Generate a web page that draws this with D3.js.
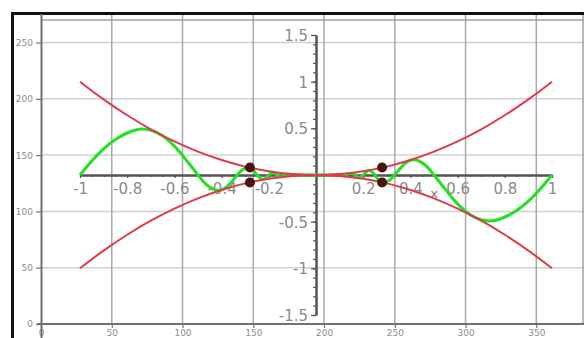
<!DOCTYPE html>
<html>
<head>
<meta charset="utf-8">
<script src="https://cdn.jsdelivr.net/npm/d3@7"></script>
<style>
  body { margin: 0; background: #fff; }
  svg { display: block; }
  .outer text { font-family: "DejaVu Sans", sans-serif; font-size: 9px; fill: #8c8c8c; }
  .inner text { font-family: "DejaVu Sans", sans-serif; font-size: 15px; fill: #8a8a8a; }
</style>
</head>
<body>
<svg id="chart" width="584" height="338"></svg>
<script>
// outer (screen) axes
var outerXTicks = [0, 50, 100, 150, 200, 250, 300, 350];
var outerYTicks = [0, 50, 100, 150, 200, 250];

// inner (math) axes
var innerXTicks = [-1, -0.8, -0.6, -0.4, -0.2, 0.2, 0.4, 0.6, 0.8, 1];
var innerYTicks = [-1.5, -1, -0.5, 0.5, 1, 1.5];

// red envelope curves
var redX = [-1, -0.9, -0.8, -0.7, -0.6, -0.5, -0.4, -0.3, -0.2, -0.1, 0, 0.1, 0.2, 0.3, 0.4, 0.5, 0.6, 0.7, 0.8, 0.9, 1];
var redTop = [1.00, 0.81, 0.64, 0.49, 0.36, 0.25, 0.16, 0.09, 0.04, 0.01, 0, 0.01, 0.04, 0.09, 0.16, 0.25, 0.36, 0.49, 0.64, 0.81, 1.00];
var redBottom = [-1.00, -0.81, -0.64, -0.49, -0.36, -0.25, -0.16, -0.09, -0.04, -0.01, 0, -0.01, -0.04, -0.09, -0.16, -0.25, -0.36, -0.49, -0.64, -0.81, -1.00];

// green oscillating curve
var greenX = [-1, -0.95, -0.9, -0.85, -0.8, -0.75, -0.7, -0.65, -0.6, -0.575, -0.55, -0.525, -0.5, -0.47, -0.45, -0.425, -0.4, -0.375, -0.35, -0.333,
  -0.31, -0.29, -0.265, -0.25, -0.225, -0.2, -0.18, -0.167, -0.15, -0.12, -0.08, 0,
  0.08, 0.12, 0.15, 0.167, 0.18, 0.2, 0.225, 0.25, 0.265, 0.29, 0.31,
  0.333, 0.35, 0.375, 0.4, 0.425, 0.45, 0.47, 0.5, 0.525, 0.55, 0.575, 0.6, 0.65, 0.7, 0.75, 0.8, 0.85, 0.9, 0.95, 1];
var greenY = [0, 0.15, 0.28, 0.38, 0.45, 0.49, 0.48, 0.42, 0.31, 0.24, 0.16, 0.08, 0, -0.09, -0.13, -0.16, -0.16, -0.12, -0.05, 0,
  0.06, 0.08, 0.05, 0, -0.05, 0, 0.03, 0, -0.02, 0, 0, 0,
  0, 0, 0.02, 0, -0.03, 0, 0.05, 0, -0.05, -0.08, -0.06,
  0, 0.05, 0.12, 0.16, 0.16, 0.13, 0.09, 0, -0.08, -0.16, -0.24, -0.31, -0.42, -0.48, -0.49, -0.45, -0.38, -0.28, -0.15, 0];

// black dots where the curves meet the envelope
var dotX = [-0.28, -0.28, 0.28, 0.28];
var dotY = [0.08, -0.08, 0.08, -0.08];

var svg = d3.select("#chart");

var xOut = d3.scaleLinear().domain([0, 383]).range([41, 583]);
var yOut = d3.scaleLinear().domain([0, 270]).range([324, 20]);

var xIn = d3.scaleLinear().domain([-1, 1]).range([80, 552]);
var yIn = d3.scaleLinear().domain([-1.5, 1.5]).range([315, 35]);

var plain = function (d) { return String(d); };

// grid
var grid = svg.append("g");
grid.selectAll(".hg")
  .data(outerYTicks.filter(function (d) { return d > 0; }))
  .enter().append("line")
  .attr("x1", 41).attr("x2", 584)
  .attr("y1", function (d) { return yOut(d); })
  .attr("y2", function (d) { return yOut(d); })
  .attr("stroke", "#d0d0d0").attr("stroke-width", 1.5);
grid.selectAll(".vg")
  .data(outerXTicks.filter(function (d) { return d > 0; }))
  .enter().append("line")
  .attr("x1", function (d) { return xOut(d); })
  .attr("x2", function (d) { return xOut(d); })
  .attr("y1", 14).attr("y2", 324)
  .attr("stroke", "#a8a8a8").attr("stroke-width", 1.5);
// plot top / right edge
grid.append("line").attr("x1", 41).attr("x2", 584).attr("y1", 20).attr("y2", 20)
  .attr("stroke", "#a0a0a0").attr("stroke-width", 1.5);
grid.append("line").attr("x1", 583).attr("x2", 583).attr("y1", 14).attr("y2", 324)
  .attr("stroke", "#a0a0a0").attr("stroke-width", 1.5);

// outer frame
svg.append("line").attr("x1", 12).attr("x2", 584).attr("y1", 13.5).attr("y2", 13.5)
  .attr("stroke", "#111").attr("stroke-width", 3);
svg.append("line").attr("x1", 12.5).attr("x2", 12.5).attr("y1", 12).attr("y2", 338)
  .attr("stroke", "#111").attr("stroke-width", 3);

// outer axes
var yAxisOut = svg.append("g").attr("class", "outer")
  .attr("transform", "translate(41,0)")
  .call(d3.axisLeft(yOut).tickValues(outerYTicks).tickFormat(plain).tickSize(5).tickPadding(3));
var xAxisOut = svg.append("g").attr("class", "outer")
  .attr("transform", "translate(0,324)")
  .call(d3.axisBottom(xOut).tickValues(outerXTicks).tickFormat(plain).tickSize(4).tickPadding(2));
[yAxisOut, xAxisOut].forEach(function (g) {
  g.select(".domain").remove();
  g.selectAll(".tick line").attr("stroke", "#777").attr("stroke-width", 1.2);
});
svg.append("line").attr("x1", 41.5).attr("x2", 41.5).attr("y1", 14).attr("y2", 338)
  .attr("stroke", "#707070").attr("stroke-width", 2);
svg.append("line").attr("x1", 37).attr("x2", 584).attr("y1", 324).attr("y2", 324)
  .attr("stroke", "#707070").attr("stroke-width", 2);

// inner axes
var xAxisIn = svg.append("g").attr("class", "inner")
  .attr("transform", "translate(0," + yIn(0) + ")")
  .call(d3.axisBottom(xIn).tickValues(innerXTicks).tickFormat(plain).tickSize(3).tickSizeOuter(0).tickPadding(5));
var xMinor = svg.append("g")
  .attr("transform", "translate(0," + yIn(0) + ")")
  .call(d3.axisBottom(xIn).ticks(40).tickSize(2).tickSizeOuter(0).tickFormat(""));
var yAxisIn = svg.append("g").attr("class", "inner")
  .attr("transform", "translate(" + xIn(0) + ",0)")
  .call(d3.axisLeft(yIn).tickValues(innerYTicks).tickFormat(plain).tickSize(5).tickSizeOuter(0).tickPadding(3));
var yMinor = svg.append("g")
  .attr("transform", "translate(" + xIn(0) + ",0)")
  .call(d3.axisLeft(yIn).ticks(30).tickSize(3).tickSizeOuter(0).tickFormat(""));
[xAxisIn, xMinor, yAxisIn, yMinor].forEach(function (g) {
  g.select(".domain").attr("stroke", "#555").attr("stroke-width", 2);
  g.selectAll(".tick line").attr("stroke", "#555").attr("stroke-width", 1.2);
});
yAxisIn.selectAll(".tick text").attr("dy", "0.36em");

svg.append("text").attr("class", "inner")
  .attr("x", xIn(0.5)).attr("y", yIn(0) + 23)
  .attr("text-anchor", "middle")
  .style("font-family", "DejaVu Sans, sans-serif")
  .style("font-size", "13px").style("fill", "#777")
  .text("x");

// curves
var line = d3.line()
  .x(function (d) { return xIn(d[0]); })
  .y(function (d) { return yIn(d[1]); })
  .curve(d3.curveCatmullRom.alpha(0.5));

svg.append("path")
  .attr("d", line(d3.zip(greenX, greenY)))
  .attr("fill", "none").attr("stroke", "#22e022").attr("stroke-width", 3);
svg.append("path")
  .attr("d", line(d3.zip(redX, redTop)))
  .attr("fill", "none").attr("stroke", "#e03b4a").attr("stroke-width", 2);
svg.append("path")
  .attr("d", line(d3.zip(redX, redBottom)))
  .attr("fill", "none").attr("stroke", "#e03b4a").attr("stroke-width", 2);

svg.selectAll(".dot")
  .data(d3.zip(dotX, dotY))
  .enter().append("circle")
  .attr("cx", function (d) { return xIn(d[0]); })
  .attr("cy", function (d) { return yIn(d[1]); })
  .attr("r", 5)
  .attr("fill", "#4a1410");
</script>
</body>
</html>
